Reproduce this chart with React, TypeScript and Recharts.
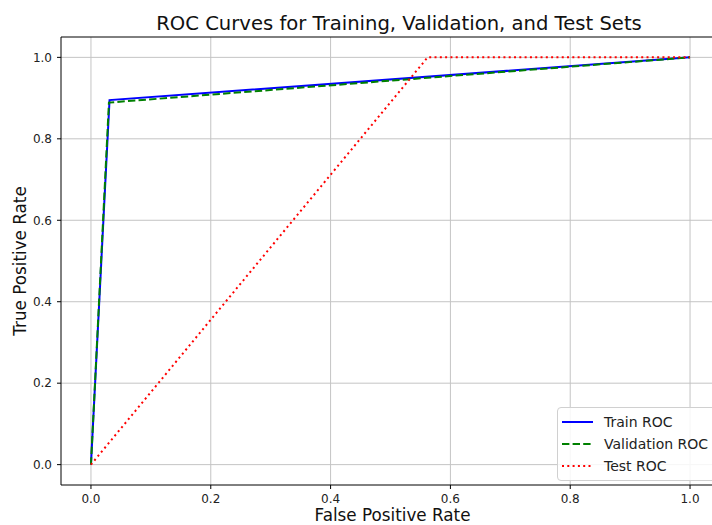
import { LineChart, Line, XAxis, YAxis, CartesianGrid, ReferenceLine } from "recharts";

const TICKS = [0, 0.2, 0.4, 0.6, 0.8, 1.0];

const trainFpr = [0, 0.031, 1];
const trainTpr = [0, 0.895, 1];
const valFpr = [0, 0.03, 1];
const valTpr = [0, 0.889, 1];
const testFpr = [0, 0.562, 1];
const testTpr = [0, 1.0, 1];

const SERIES = [
  { name: "Train ROC", color: "#0000ff", dash: undefined as string | undefined, fpr: trainFpr, tpr: trainTpr },
  { name: "Validation ROC", color: "#008000", dash: "7.4 3.2", fpr: valFpr, tpr: valTpr },
  { name: "Test ROC", color: "#ff0000", dash: "2 3.3", fpr: testFpr, tpr: testTpr },
];

const FONT = "'DejaVu Sans', sans-serif";

function LegendBox() {
  return (
    <div
      style={{
        position: "absolute",
        left: 557,
        top: 407,
        width: 170,
        boxSizing: "border-box",
        background: "rgba(255,255,255,0.85)",
        border: "1px solid #d0d0d0",
        borderRadius: 4,
        padding: "3px 8px 3px 4px",
        fontSize: 14,
        color: "#222",
      }}
    >
      {SERIES.map((s) => (
        <div key={s.name} style={{ display: "flex", alignItems: "center", height: 22 }}>
          <svg width={31} height={10} style={{ marginRight: 11, flexShrink: 0 }}>
            <line x1={0} y1={5} x2={31} y2={5} stroke={s.color} strokeWidth={2} strokeDasharray={s.dash} />
          </svg>
          <span style={{ whiteSpace: "nowrap" }}>{s.name}</span>
        </div>
      ))}
    </div>
  );
}

export default function App() {
  return (
    <div style={{ position: "absolute", left: 0, top: 0, width: 712, height: 525, overflow: "hidden", background: "#fff", fontFamily: FONT }}>
      <div style={{ position: "absolute", left: 0, width: 798, top: 12, textAlign: "center", fontSize: 19.6, color: "#111", whiteSpace: "nowrap" }}>
        ROC Curves for Training, Validation, and Test Sets
      </div>
      <div style={{ position: "absolute", left: 0, width: 785, top: 505, textAlign: "center", fontSize: 16.8, color: "#111", whiteSpace: "nowrap" }}>
        False Positive Rate
      </div>
      <div
        style={{
          position: "absolute",
          left: 20,
          top: 261,
          transform: "translate(-50%, -50%) rotate(-90deg)",
          whiteSpace: "nowrap",
          fontSize: 16.8,
          color: "#111",
        }}
      >
        True Positive Rate
      </div>
      <div style={{ position: "absolute", left: 0, top: 0, width: 712, height: 525 }}>
        <LineChart width={712} height={525} margin={{ top: 37, right: -8, bottom: 10, left: 11 }}>
          <CartesianGrid stroke="#c4c4c4" strokeWidth={1} vertical={false} horizontalValues={TICKS} />
          {TICKS.map((t) => (
            <ReferenceLine key={t} x={t} stroke="#c4c4c4" strokeWidth={1} />
          ))}
          <ReferenceLine y={1.05} stroke="#000" strokeWidth={1} />
          <XAxis
            type="number"
            dataKey="x"
            domain={[-0.05, 1.05]}
            ticks={TICKS}
            tickFormatter={(v: number) => v.toFixed(1)}
            height={30}
            tickSize={4}
            tickMargin={5}
            stroke="#000"
            tick={{ fill: "#222", fontSize: 12, fontFamily: FONT }}
            allowDataOverflow
          />
          <YAxis
            type="number"
            dataKey="y"
            domain={[-0.05, 1.05]}
            ticks={TICKS}
            tickFormatter={(v: number) => v.toFixed(1)}
            width={50}
            tickSize={4}
            tickMargin={5}
            stroke="#000"
            tick={{ fill: "#222", fontSize: 12, fontFamily: FONT }}
            allowDataOverflow
          />
          {SERIES.map((s) => (
            <Line
              key={s.name}
              name={s.name}
              data={s.fpr.map((x, i) => ({ x, y: s.tpr[i] }))}
              dataKey="y"
              type="linear"
              stroke={s.color}
              strokeWidth={2}
              strokeDasharray={s.dash}
              dot={false}
              activeDot={false}
              isAnimationActive={false}
            />
          ))}
        </LineChart>
      </div>
      <LegendBox />
    </div>
  );
}
